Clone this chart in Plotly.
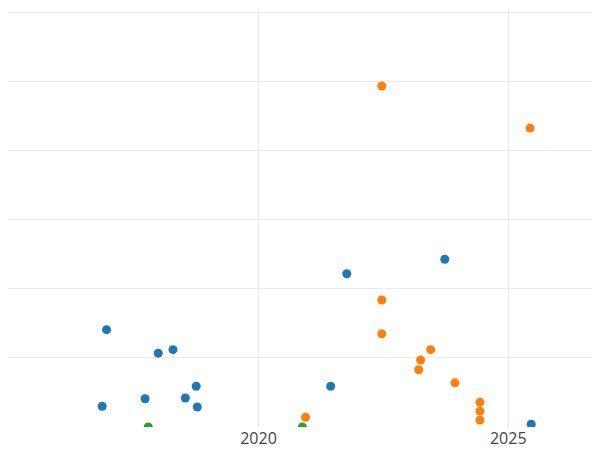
import plotly.graph_objects as go

blue_x = ["2016-12-15","2017-12-28","2018-04-15","2018-10-02","2018-07-15","2017-09-23","2016-11-13","2018-10-10","2021-06-12","2021-10-08","2023-09-25","2025-06-18"]
blue_y = [1.41,1.07,1.12,0.59,0.42,0.41,0.30,0.29,0.59,2.22,2.43,0.04]
orange_x = ["2022-06-21","2025-06-10","2022-06-21","2022-06-21","2023-04-01","2023-06-14","2023-03-18","2023-12-08","2024-06-08","2024-06-08","2024-06-08","2020-12-10"]
orange_y = [4.94,4.33,1.84,1.35,0.97,1.12,0.83,0.64,0.36,0.23,0.10,0.14]
green_x = ["2017-10-16","2020-11-17"]
green_y = [0,0]

fig = go.Figure()
for xs, ys, c in [(blue_x, blue_y, "#1f77b4"), (orange_x, orange_y, "#ff7f0e"), (green_x, green_y, "#2ca02c")]:
    fig.add_trace(go.Scatter(x=xs, y=ys, mode="markers", marker=dict(color=c, size=9), cliponaxis=True))

fig.update_layout(width=600, height=450, template="plotly_white", showlegend=False,
                  margin=dict(l=0, r=0, t=0, b=31), plot_bgcolor="white")
fig.update_xaxes(range=["2014-12-25", "2027-01-01"], dtick="M60", tick0="2015-01-01",
                 tickformat="%Y", showgrid=True, gridcolor="#ebebeb", zeroline=False,
                 tickfont=dict(size=16, color="#444"))
fig.update_yaxes(range=[0, 6.07], dtick=1, showticklabels=False, gridcolor="#ebebeb", zeroline=False)
fig.write_html("out.html")
